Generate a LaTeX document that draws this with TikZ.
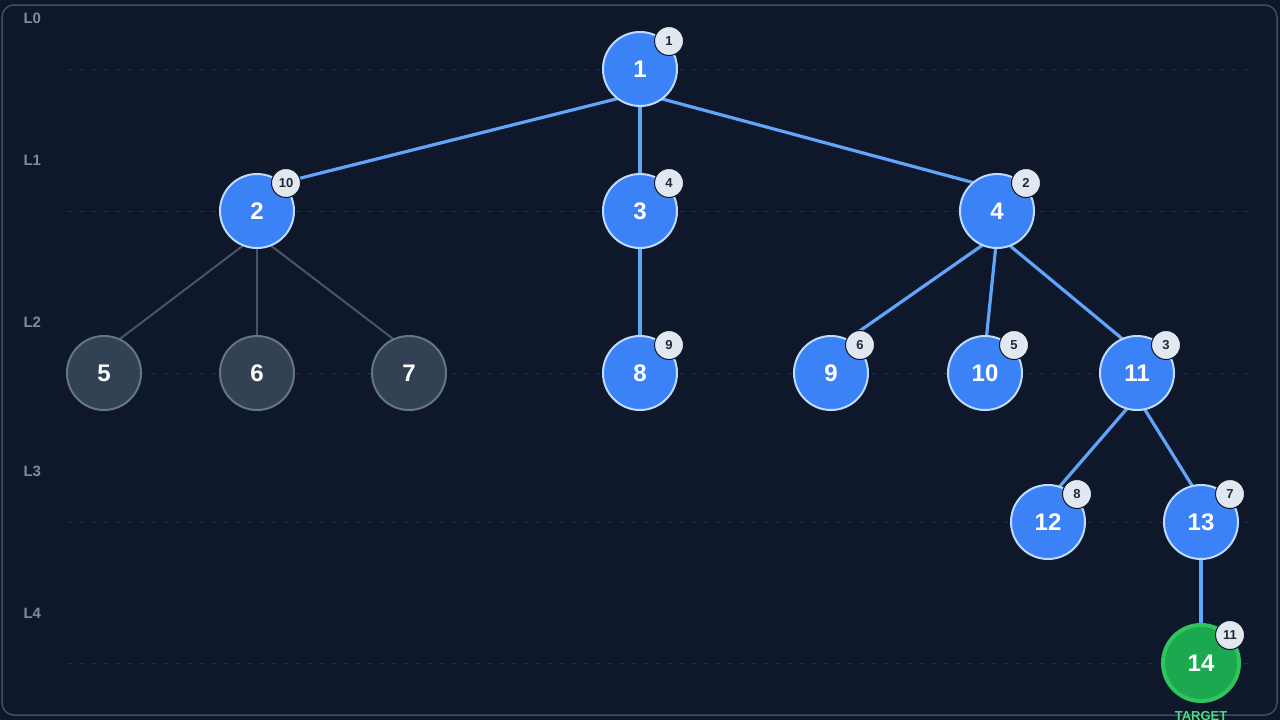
\documentclass[tikz,border=0pt]{standalone}
\usepackage{fontspec}
\setmainfont{Liberation Sans}
\usetikzlibrary{calc}

\definecolor{canvas}{RGB}{15,23,42}
\definecolor{frame}{RGB}{65,78,98}
\definecolor{guide}{RGB}{36,48,68}
\definecolor{lvltext}{RGB}{128,140,158}
\definecolor{bluefill}{RGB}{59,130,246}
\definecolor{blueline}{RGB}{191,219,254}
\definecolor{blueedge}{RGB}{96,165,250}
\definecolor{grayfill}{RGB}{51,65,85}
\definecolor{grayline}{RGB}{100,116,139}
\definecolor{grayedge}{RGB}{71,85,105}
\definecolor{greenfill}{RGB}{28,168,78}
\definecolor{greenline}{RGB}{48,196,92}
\definecolor{greentext}{RGB}{74,222,128}
\definecolor{badgefill}{RGB}{226,232,240}
\definecolor{badgetext}{RGB}{30,41,59}

\pgfdeclarelayer{bg}
\pgfdeclarelayer{edges}
\pgfsetlayers{bg,edges,main}

\tikzset{
  tree/.style={circle, minimum size=74pt, inner sep=0pt, line width=2pt,
    text=white, font=\bfseries\fontsize{24}{24}\selectfont},
  visited/.style={tree, fill=bluefill, draw=blueline},
  skipped/.style={tree, fill=grayfill, draw=grayline},
  target/.style={tree, minimum size=76pt, fill=greenfill, draw=greenline, line width=4pt},
  badge/.style={circle, minimum size=29pt, inner sep=0pt, fill=badgefill,
    draw=canvas, line width=1pt, text=badgetext, font=\bfseries\fontsize{13}{13}\selectfont},
  level/.style={anchor=west, text=lvltext, font=\bfseries\fontsize{15}{15}\selectfont},
  hot/.style={draw=blueedge, line width=3.2pt},
  cold/.style={draw=grayedge, line width=2pt},
  guideline/.style={draw=guide, line width=1pt, dash pattern=on 4pt off 8pt}
}

\begin{document}
\begin{tikzpicture}[x=1pt,y=-1pt]
    \useasboundingbox (0,0) rectangle (1280,720);
    \begin{pgfonlayer}{bg}
    \fill[canvas] (0,0) rectangle (1280,720);
    \draw[frame, line width=1.5pt, rounded corners=12pt] (2,5) rectangle (1277,715);
    \end{pgfonlayer}

    % levels
    \foreach \lv/\ly/\gy in {0/18/69, 1/160/211, 2/322/373, 3/471/522, 4/613/663}{
      \node[level] (l\lv) at (20,\ly) {L\lv};
      \draw[guideline] (68,\gy) -- (1256,\gy);
    }

    % nodes with their order badges
    \foreach \n/\nx/\ny/\ord/\kind in {1/640/69/1/visited, 2/257/211/10/visited,
      3/640/211/4/visited, 4/997/211/2/visited, 5/104/373//skipped,
      6/257/373//skipped, 7/409/373//skipped, 8/640/373/9/visited,
      9/831/373/6/visited, 10/985/373/5/visited, 11/1137/373/3/visited,
      12/1048/522/8/visited, 13/1201/522/7/visited, 14/1201/663/11/target}{
      \node[\kind] (n\n) at (\nx,\ny) {\n};
      \ifx\ord\empty\else
        \node[badge] (b\n) at ([shift={(29,-28)}]n\n.center) {\ord};
      \fi
    }
    \node[text=greentext, font=\bfseries\fontsize{13}{13}\selectfont] (tag) at (1201,716) {TARGET};

    % edges leave below the parent's centre, reach above the child's
    \begin{pgfonlayer}{edges}
    \foreach \a/\b in {1/2, 1/3, 1/4, 3/8, 4/9, 4/10, 4/11, 11/12, 11/13, 13/14}
      \draw[hot] ([yshift=-24pt]n\a.center) -- ([yshift=22pt]n\b.center);
    \foreach \b in {5,6,7}
      \draw[cold] ([yshift=-24pt]n2.center) -- ([yshift=22pt]n\b.center);
    \end{pgfonlayer}
\end{tikzpicture}
\end{document}
